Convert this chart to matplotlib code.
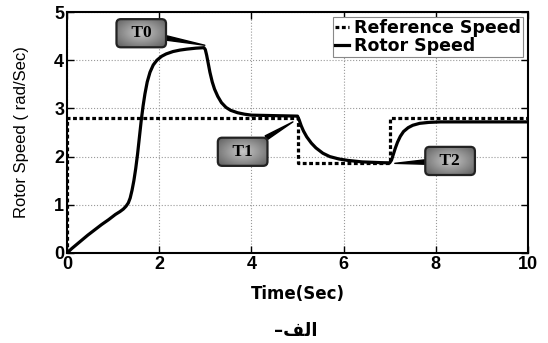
import numpy as np
import matplotlib.pyplot as plt

# === Daten ===
t_rotor = [0.0, 0.1, 0.2, 0.3, 0.45, 0.6, 0.75, 0.9, 1.05, 1.15, 1.22, 1.28, 1.33, 1.37,
           1.41, 1.45, 1.49, 1.53, 1.57, 1.61, 1.65, 1.69, 1.74, 1.80, 1.87, 1.95, 2.05,
           2.15, 2.3, 2.45, 2.6, 2.8, 2.97,
           3.0, 3.03, 3.06, 3.1, 3.15, 3.2, 3.27, 3.35, 3.45, 3.55, 3.7, 3.85, 4.0, 4.5,
           5.0, 5.04, 5.08, 5.13, 5.2, 5.3, 5.4, 5.55, 5.7, 5.9, 6.1, 6.4, 6.8,
           7.0, 7.04, 7.08, 7.12, 7.17, 7.23, 7.3, 7.4, 7.5, 7.65, 7.85, 8.1, 9.0, 10.0]
w_rotor = [0.0, 0.09, 0.17, 0.25, 0.37, 0.48, 0.59, 0.69, 0.8, 0.86, 0.91, 0.97, 1.04, 1.14,
           1.3, 1.5, 1.75, 2.05, 2.4, 2.75, 3.05, 3.3, 3.55, 3.75, 3.9, 4.0, 4.08,
           4.13, 4.18, 4.21, 4.23, 4.25, 4.26,
           4.22, 4.1, 3.95, 3.75, 3.55, 3.4, 3.25, 3.12, 3.02, 2.96, 2.91, 2.88, 2.86, 2.85,
           2.84, 2.75, 2.64, 2.53, 2.41, 2.28, 2.18, 2.07, 2.0, 1.95, 1.92, 1.89, 1.875,
           1.87, 1.93, 2.05, 2.17, 2.3, 2.42, 2.52, 2.6, 2.65, 2.69, 2.71, 2.72, 2.72, 2.72]

t_ref = [0.0, 0.0, 5.0, 7.0, 10.0]
w_ref = [0.0, 2.8, 1.87, 2.8, 2.8]

# Markierungen: (Text, Textposition, Zielpunkt)
labels = ['T0', 'T1', 'T2']
label_pos = [(1.61, 4.56), (3.81, 2.10), (8.31, 1.91)]
label_tip = [(2.99, 4.31), (4.90, 2.72), (7.11, 1.86)]

# === Plot ===
fig = plt.figure(figsize=(5.48, 3.43), dpi=100)
ax = fig.add_axes([0.1223, 0.2624, 0.8412, 0.7026])

ax.plot(t_ref, w_ref, color='black', linestyle=(0, (1.2, 0.8)), linewidth=2.3,
        drawstyle='steps-post', label='Reference Speed')
ax.plot(t_rotor, w_rotor, color='black', linewidth=2.3, label='Rotor Speed')

anns = []
for txt, pos, tip in zip(labels, label_pos, label_tip):
    a = ax.annotate('  ' + txt + '  ', xy=tip, xytext=pos, ha='center', va='center',
                    fontsize=12.5, fontweight='bold', family='Liberation Serif', zorder=4,
                    bbox=dict(boxstyle='round,pad=0.35,rounding_size=0.25',
                              facecolor='none', edgecolor='#222222', linewidth=1.6),
                    arrowprops=dict(arrowstyle='wedge,tail_width=0.25', color='black',
                                    shrinkA=0, shrinkB=0))
    anns.append(a)

ax.set_xlim(0, 10)
ax.set_ylim(0, 5)
ax.set_xticks([0, 2, 4, 6, 8, 10])
ax.set_yticks([0, 1, 2, 3, 4, 5])
ax.tick_params(direction='in', top=True, right=True, length=5, width=1,
               labelsize=13, pad=2)
for lab in ax.get_xticklabels() + ax.get_yticklabels():
    lab.set_fontweight('bold')
    lab.set_family('Liberation Sans')
for s in ax.spines.values():
    s.set_linewidth(1.5)
ax.grid(True, linestyle=':', linewidth=0.8, color='#999999')

ax.set_xlabel('Time(Sec)', fontsize=12, fontweight='bold', family='DejaVu Sans', labelpad=9)
ax.set_ylabel('Rotor Speed ( rad/Sec)', fontsize=12, family='Liberation Sans', labelpad=18)

leg = ax.legend(loc='upper right', prop=dict(family='DejaVu Sans', weight='bold', size=12.5),
                handlelength=0.8, handletextpad=0.3, borderaxespad=0.3,
                borderpad=0.1, labelspacing=0.0, fancybox=False, framealpha=1)
leg.get_frame().set_edgecolor('#888888')
leg.get_frame().set_linewidth(0.8)

# Bildunterschrift (Arabisch, Darstellungsformen in visueller Reihenfolge)
fig.text(0.54, 0.035, '\u2013\ufed2\ufedf\ufe8d', ha='center', va='center',
         fontsize=13, fontweight='bold', family='DejaVu Sans')

# Grauer Verlauf in den Kästchen
fig.canvas.draw()
inv = ax.transData.inverted()
gx, gy = np.meshgrid(np.linspace(-1, 1, 80), np.linspace(-1, 1, 40))
shade = 0.78 - 0.42 * np.sqrt(gx ** 2 + gy ** 2) / np.sqrt(2)
for a in anns:
    patch = a.get_bbox_patch()
    bb = patch.get_window_extent()
    (x0, y0), (x1, y1) = inv.transform([[bb.x0, bb.y0], [bb.x1, bb.y1]])
    im = ax.imshow(shade, extent=[x0, x1, y0, y1], cmap='gray', vmin=0, vmax=1,
                   aspect='auto', zorder=3.5, interpolation='bilinear')
    im.set_clip_path(patch)
ax.set_xlim(0, 10)
ax.set_ylim(0, 5)

fig.savefig('out.png', dpi=100)
